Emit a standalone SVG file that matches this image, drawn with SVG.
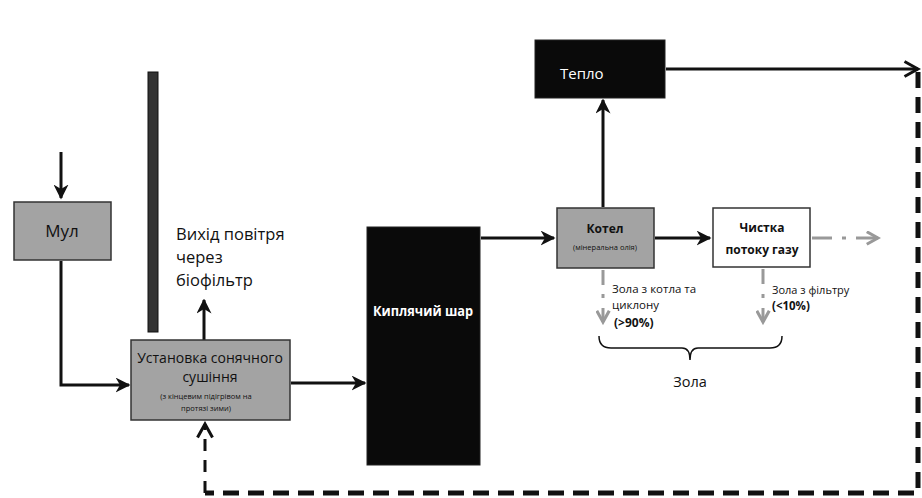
<svg xmlns="http://www.w3.org/2000/svg" width="922" height="498" viewBox="0 0 922 498">
<style>
.t{font-family:"Open Sans","Liberation Sans",sans-serif;fill:#111}
.b{font-weight:bold}
.w{fill:#fff}
.ln{stroke:#111;stroke-width:3;fill:none}
.gbox{fill:#a3a3a3;stroke:#333;stroke-width:1.5}
.kbox{fill:#0a0a0a;stroke:#222;stroke-width:1}
.gd{stroke:#999;stroke-width:3;fill:none}
</style>
<defs>
<marker id="ah" viewBox="0 0 10 10" refX="9" refY="5" markerWidth="5" markerHeight="5" orient="auto" markerUnits="strokeWidth"><path d="M0,0 L10,5 L0,10 L3,5 z" fill="#111"/></marker>
<marker id="ao" viewBox="0 0 12 12" refX="10" refY="6" markerWidth="6" markerHeight="6" orient="auto" markerUnits="strokeWidth"><path d="M1,1 L10,6 L1,11" fill="none" stroke="#111" stroke-width="2"/></marker>
<marker id="ag" viewBox="0 0 12 12" refX="10" refY="6" markerWidth="5" markerHeight="5" orient="auto" markerUnits="strokeWidth"><path d="M1,1 L10,6 L1,11" fill="none" stroke="#999" stroke-width="2.5"/></marker>
</defs>
<rect width="922" height="498" fill="#fff"/>
<g id="connectors">
<path class="ln" d="M61,152 V198" marker-end="url(#ah)"/>
<path class="ln" d="M61,261 V385 H129" marker-end="url(#ah)"/>
<path class="ln" d="M204,340 V300" marker-end="url(#ah)"/>
<path class="ln" d="M291,383 H365" marker-end="url(#ah)"/>
<path class="ln" d="M481,238 H554" marker-end="url(#ah)"/>
<path class="ln" d="M603,207 V100" marker-end="url(#ah)"/>
<path class="ln" d="M666,69 H918" marker-end="url(#ao)"/>
<path class="ln" d="M655,238 H710" marker-end="url(#ah)"/>
<path class="gd" d="M812,238 H832 M842,238 H846 M856,238 H878" marker-end="url(#ag)"/>
<path class="gd" d="M603,270 V285 M603,294 V298 M603,308 V322" marker-end="url(#ag)"/>
<path class="gd" d="M763,269 V284 M763,294 V298 M763,308 V322" marker-end="url(#ag)"/>
<path d="M599,336 Q599,348 611,348 H682 Q690,348 690,360 Q690,348 698,348 H770 Q782,348 782,336" fill="none" stroke="#111" stroke-width="1.5"/>
<path d="M918,72 V493 H205" fill="none" stroke="#111" stroke-width="5" stroke-dasharray="16,9"/>
<path d="M205,493 V424" fill="none" stroke="#111" stroke-width="3" stroke-dasharray="12,9" marker-end="url(#ao)"/>
</g>
<g id="bar"><rect x="148" y="72" width="10" height="260" fill="#333" stroke="#111" stroke-width="1"/></g>
<g id="mul"><rect class="gbox" x="14" y="202" width="97" height="58"/><text class="t" x="62" y="237" font-size="17" text-anchor="middle">Мул</text></g>
<g id="solar"><rect class="gbox" x="131" y="340" width="159" height="80"/>
<text class="t" x="210" y="363" font-size="14" text-anchor="middle">Установка сонячного</text>
<text class="t" x="210" y="382" font-size="14" text-anchor="middle">сушіння</text>
<text class="t" x="206" y="399" font-size="7.5" text-anchor="middle">(з кінцевим підігрівом на</text>
<text class="t" x="206" y="411" font-size="7.5" text-anchor="middle">протязі зими)</text></g>
<g id="exhaust"><text class="t" x="176" y="240" font-size="16.5">Вихід повітря</text><text class="t" x="176" y="263" font-size="16.5">через</text><text class="t" x="176" y="286" font-size="16.5">біофільтр</text></g>
<g id="fluid"><rect class="kbox" x="367" y="227" width="113" height="238"/><text class="t w b" x="423" y="316" font-size="14" text-anchor="middle" textLength="100" lengthAdjust="spacingAndGlyphs">Киплячий шар</text></g>
<g id="boiler"><rect class="gbox" x="557" y="208" width="97" height="60"/><text class="t b" x="605" y="233" font-size="12" text-anchor="middle">Котел</text><text class="t" x="605" y="250" font-size="7.5" text-anchor="middle">(мінеральна олія)</text></g>
<g id="heat"><rect class="kbox" x="535" y="40" width="130" height="58"/><text class="t w" x="560" y="79" font-size="15">Тепло</text></g>
<g id="clean"><rect x="713" y="208" width="97" height="59" fill="#fff" stroke="#333" stroke-width="1.5"/><text class="t b" x="762" y="232" font-size="12" text-anchor="middle">Чистка</text><text class="t b" x="762" y="254" font-size="12" text-anchor="middle">потоку газу</text></g>
<g id="ash1"><text class="t" x="612" y="293" font-size="11.5">Зола з котла та</text><text class="t" x="612" y="309" font-size="11.5">циклону</text><text class="t b" x="614" y="327" font-size="12">(&gt;90%)</text></g>
<g id="ash2"><text class="t" x="772" y="294" font-size="11">Зола з фільтру</text><text class="t b" x="772" y="310" font-size="11.5">(&lt;10%)</text></g>
<g id="ash"><text class="t" x="690" y="387" font-size="14.5" text-anchor="middle">Зола</text></g>
</svg>
